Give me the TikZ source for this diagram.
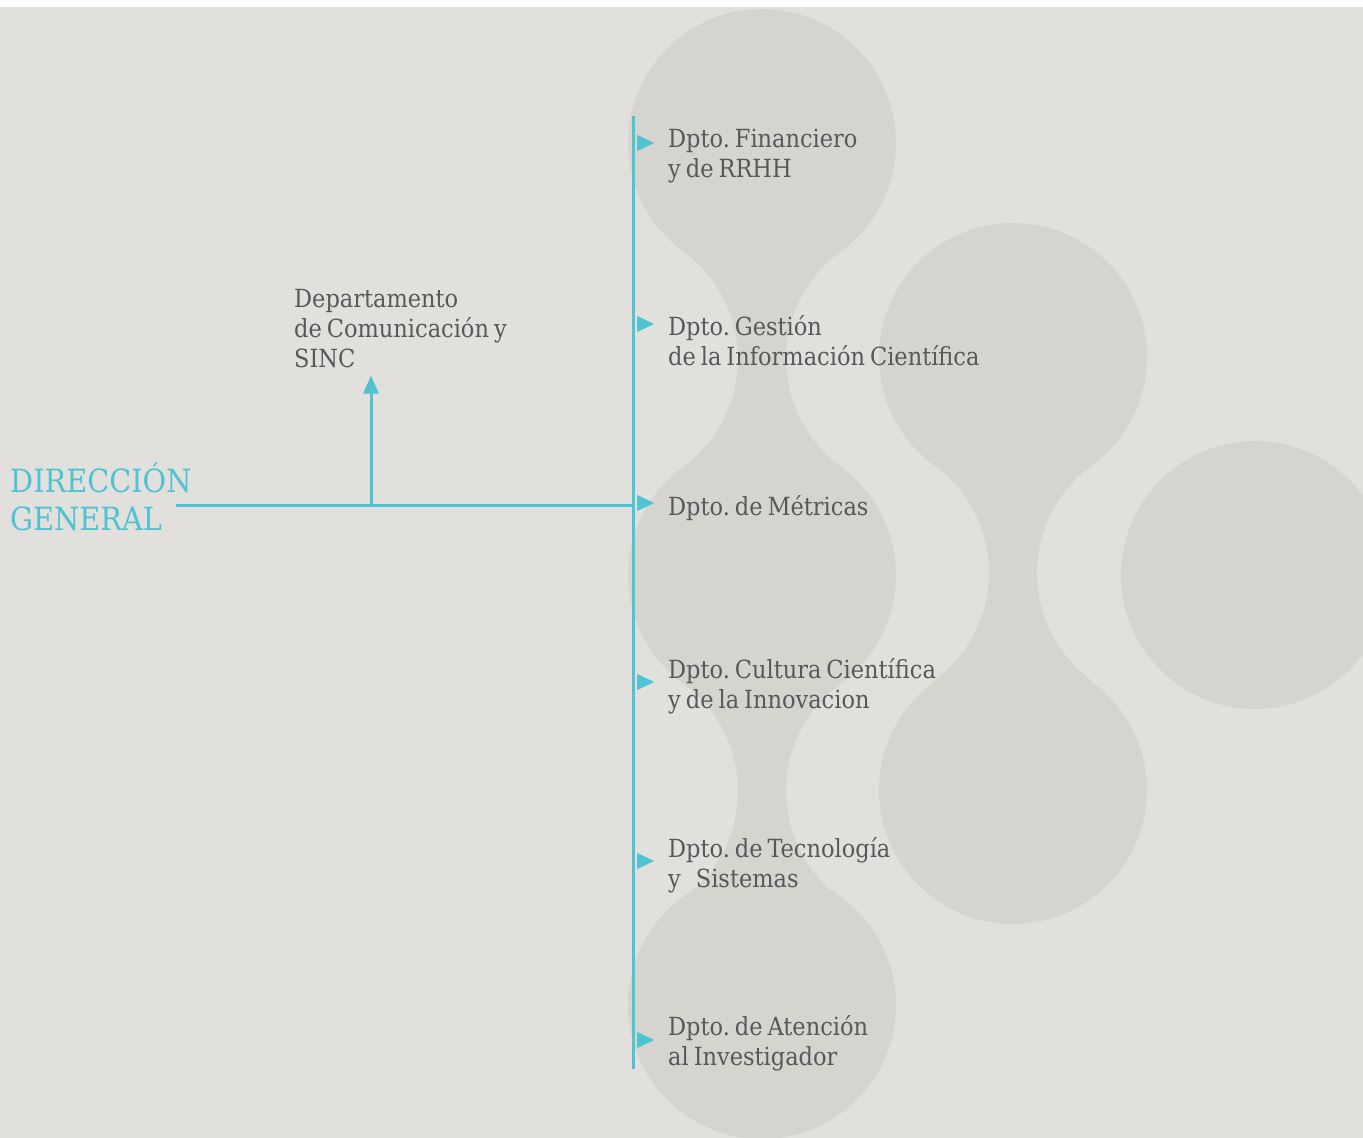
\documentclass[tikz,border=0pt]{standalone}
\usepackage{fontspec}
\setmainfont[WordSpace=0.7]{DejaVu Serif Condensed}
\usetikzlibrary{arrows.meta,positioning}
\frenchspacing

\definecolor{bg}{RGB}{225,224,220}
\definecolor{blob}{RGB}{213,212,207}
\definecolor{aqua}{RGB}{79,195,210}
\definecolor{txt}{RGB}{88,88,90}

% waist between two balls of one column, #1/#2 = centre of the upper ball
\newcommand{\blobneck}[2]{%
  \fill[blob] (#1+78.8,-#2-108.4) arc[start angle=126,end angle=234,radius=133pt]
    -- (#1-78.8,-#2-323.6) arc[start angle=-54,end angle=54,radius=133pt] -- cycle;}

\begin{document}
\begin{tikzpicture}
  [x=1pt,y=1pt,
  dept/.style={anchor=base west,inner sep=0pt,align=left,text=txt,font=\fontsize{25}{30}\selectfont},
  head/.style={anchor=base west,inner sep=0pt,align=left,text=aqua,font=\fontsize{32}{38}\selectfont},
  link/.style={draw=aqua,line width=3pt},
  pointer/.style={draw=aqua,line width=0.5pt,-{Triangle[length=17pt,width=16pt]},shorten <=4pt,shorten >=14pt}]

% background
\fill[white] (0,0) rectangle (1363,-1138);
\fill[bg] (0,-7) rectangle (1363,-1138);
\useasboundingbox (0,0) rectangle (1363,-1138);

% grey balls
\begin{scope}
  \clip (0,-7) rectangle (1363,-1138);
  \foreach \cx/\cy in {762/143,762/575,762/1005,1013/357,1013/790,1255/575}
    \fill[blob] (\cx,-\cy) circle[radius=134pt];
  \foreach \cx/\cy in {762/143,762/575,1013/357}
    \blobneck{\cx}{\cy};
\end{scope}

% units (anchored on the baseline of the last line)
\node[head] (dg) at (10,-530) {DIRECCIÓN\\GENERAL};
\node[dept] (com) at (294,-367) {Departamento\\de Comunicación y\\SINC};
\node[dept] (fin) at (668,-177) {Dpto. Financiero\\y de RRHH};
\node[dept] (ges) at (668,-365) {Dpto. Gestión\\de la Información Científica};
\node[dept] (met) at (668,-515) {Dpto. de Métricas};
\node[dept] (cul) at (668,-708) {Dpto. Cultura Científica\\y de la Innovacion};
\node[dept] (tec) at (668,-887) {Dpto. de Tecnología\\y~~~Sistemas};
\node[dept] (ate) at (668,-1065) {Dpto. de Atención\\al Investigador};

% lines
\coordinate (dgout) at (176,-505);
\coordinate (fork) at (371,-505);
\coordinate (hub) at (633,-505);
\coordinate (bartop) at (633,-116);
\coordinate (barbot) at (633,-1069);

\draw[link] (dgout) -- (hub);
\draw[link] (bartop) -- (barbot);
\draw[link,-{Triangle[length=18pt,width=15pt]},shorten >=8pt] (fork) -- (fork |- com.south);

\foreach \d/\y in {fin/143,ges/324,met/503,cul/682,tec/861,ate/1040} {
  \coordinate (p\d) at (633,-\y);
  \draw[pointer] (p\d) -- (p\d -| \d.west);
}

\end{tikzpicture}
\end{document}
